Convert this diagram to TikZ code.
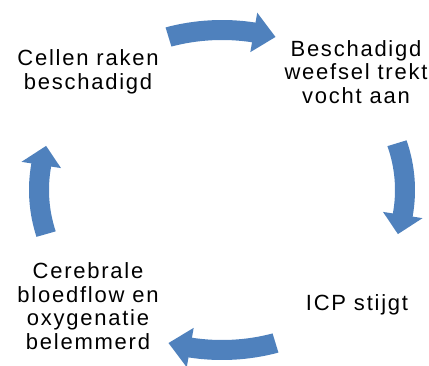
\documentclass[tikz,border=0pt]{standalone}
\usepackage{fontspec}
\setmainfont[LetterSpace=8]{Liberation Sans}
\definecolor{arrowblue}{RGB}{79,129,189}
\newcommand\cyclearrow[2]{%
  % #1 tail parameter angle, #2 tip parameter angle (clockwise, #1 > #2)
  \pgfmathsetmacro\hb{#2+7}%
  \fill[arrowblue]
    ({\cx+(\rx+\bw)*cos(#1)},{\cy+(\ry+\bw)*sin(#1)})
    arc[start angle=#1, end angle=\hb, x radius=\rx+\bw, y radius=\ry+\bw]
    -- ({\cx+(\rx+\hw)*cos(\hb)},{\cy+(\ry+\hw)*sin(\hb)})
    -- ({\cx+\rx*cos(#2)},{\cy+\ry*sin(#2)})
    -- ({\cx+(\rx-\hw)*cos(\hb)},{\cy+(\ry-\hw)*sin(\hb)})
    -- ({\cx+(\rx-\bw)*cos(\hb)},{\cy+(\ry-\bw)*sin(\hb)})
    arc[start angle=\hb, end angle=#1, x radius=\rx-\bw, y radius=\ry-\bw]
    -- cycle;}
\tikzset{
  label text/.style={align=center, inner sep=0pt, font=\fontsize{22}{23.5}\selectfont, text=black}
}
\begin{document}
\begin{tikzpicture}[x=1pt,y=1pt]
\useasboundingbox (0,0) rectangle (429,365);
\def\cx{222}\def\cy{175}\def\rx{183}\def\ry{160}\def\bw{10}\def\hw{20}
\cyclearrow{107}{73}
\cyclearrow{17}{-16}
\cyclearrow{-73}{-107}
\cyclearrow{196}{164}
\node[label text] (cells) at (88,293) {Cellen raken\\beschadigd};
\node[label text] (tissue) at (356,293) {Beschadigd\\weefsel trekt\\vocht aan};
\node[label text] (icp) at (357,60) {ICP stijgt};
\node[label text] (flow) at (88,59) {Cerebrale\\bloedflow en\\oxygenatie\\belemmerd};
\end{tikzpicture}
\end{document}
